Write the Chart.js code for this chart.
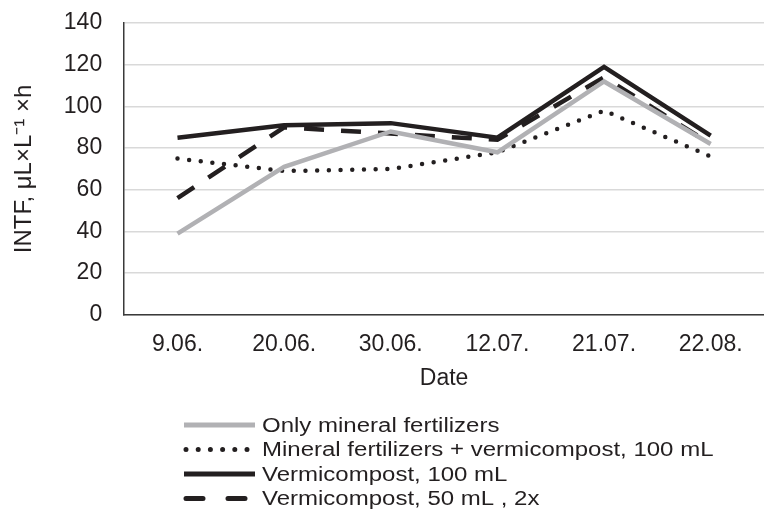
<!DOCTYPE html>
<html><head><meta charset="utf-8">
<script src="https://cdn.jsdelivr.net/npm/chart.js@4/dist/chart.umd.min.js"></script>
<style>html,body{margin:0;padding:0;background:#fff}#wrap{width:764px;height:513px}</style>
</head><body><div id="wrap"><canvas id="c" width="764" height="513"></canvas></div>
<script>
const categories = ["9.06.", "20.06.", "30.06.", "12.07.", "21.07.", "22.08."];
const onlyMineral = [39, 71, 88, 78, 112, 82];
const mineralVermi = [75, 69, 70, 78, 98, 76];
const vermi100 = [85, 91, 92, 85, 119, 86];
const vermi50x2 = [56, 90, 87, 84, 114, 82];
const seriesLabels = ["Only mineral fertilizers", "Mineral fertilizers + vermicompost, 100 mL", "Vermicompost, 100 mL", "Vermicompost, 50 mL , 2x"];
const yTitle = "INTF, μL×L⁻¹ ×h";
const xTitle = "Date";

const FONT = "'Liberation Sans', Arial, sans-serif";
const FS = 23;
const DARK = "#231f20";

const legendPlugin = {
  id: 'stackLegend',
  afterDraw(chart) {
    const ctx = chart.ctx;
    ctx.save();
    const x0 = 184, x1 = 255, tx = 262, y0 = 425, dy = 24.5;
    chart.data.datasets.forEach((ds, i) => {
      const y = y0 + i * dy;
      ctx.beginPath();
      ctx.lineWidth = 5;
      ctx.strokeStyle = ds.borderColor;
      ctx.lineCap = ds.legendCap || 'butt';
      ctx.setLineDash(ds.legendDash || []);
      ctx.moveTo(x0 + (ds.legendInset || 0), y);
      ctx.lineTo(x1, y);
      ctx.stroke();
      ctx.setLineDash([]);
      ctx.fillStyle = DARK;
      ctx.font = "20px " + FONT;
      ctx.textBaseline = 'middle';
      ctx.textAlign = 'left';
      ctx.save();
      ctx.translate(tx, y + 1);
      ctx.scale(1.2, 1);
      ctx.fillText(ds.label, 0, 0);
      ctx.restore();
    });
    ctx.restore();
  }
};

new Chart(document.getElementById('c'), {
  type: 'line',
  data: {
    labels: categories,
    datasets: [
      { label: seriesLabels[0], data: onlyMineral, borderColor: "#b1b1b4", borderWidth: 4.5, pointRadius: 0, tension: 0, borderCapStyle: 'butt' },
      { label: seriesLabels[1], data: mineralVermi, borderColor: DARK, borderWidth: 4.5, pointRadius: 0, tension: 0, borderDash: [0, 11.7], borderCapStyle: 'round', legendDash: [0, 12.2], legendCap: 'round', legendInset: 2 },
      { label: seriesLabels[2], data: vermi100, borderColor: DARK, borderWidth: 4.5, pointRadius: 0, tension: 0 },
      { label: seriesLabels[3], data: vermi50x2, borderColor: DARK, borderWidth: 4.5, pointRadius: 0, tension: 0, borderDash: [20, 17], borderCapStyle: 'butt', legendDash: [17, 25], legendCap: 'round', legendInset: 2 }
    ]
  },
  options: {
    responsive: false,
    animation: false,
    devicePixelRatio: 1,
    layout: { autoPadding: true, padding: { left: 0, right: 0, top: 0, bottom: 121 } },
    plugins: { legend: { display: false }, tooltip: { enabled: false } },
    scales: {
      x: {
        offset: true,
        grid: { display: false, drawTicks: false },
        border: { display: true, color: "#3a3a3a", width: 1.5 },
        ticks: { color: DARK, font: { family: FONT, size: FS }, padding: 16, maxRotation: 0 },
        title: { display: true, text: xTitle, color: DARK, font: { family: FONT, size: FS }, padding: { top: -10, bottom: 0 } }
      },
      y: {
        min: 0, max: 140,
        ticks: { stepSize: 20, color: DARK, font: { family: FONT, size: FS, lineHeight: 0.1 }, padding: 22 },
        grid: { color: "#d9d9d9", lineWidth: 1.5, drawTicks: false },
        border: { display: true, color: "#3a3a3a", width: 1.5 },
        title: { display: true, text: yTitle, color: DARK, font: { family: FONT, size: 24 }, padding: { top: 10, bottom: 3 } }
      }
    }
  },
  plugins: [legendPlugin]
});
</script></body></html>
